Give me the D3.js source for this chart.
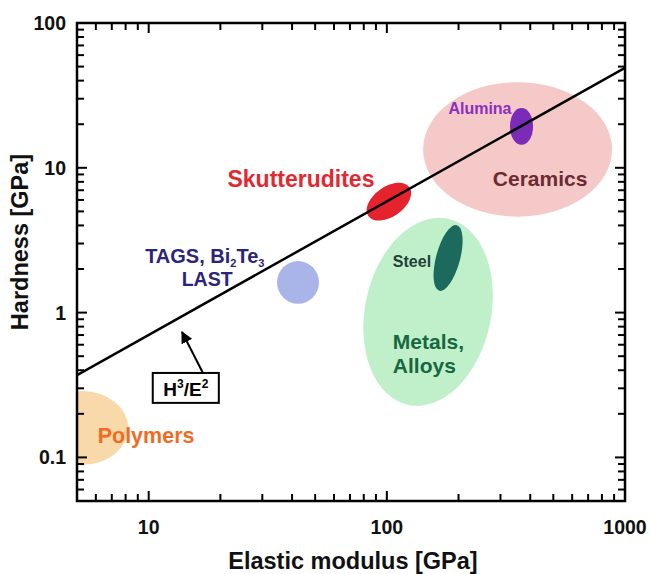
<!DOCTYPE html>
<html>
<head>
<meta charset="utf-8">
<script src="https://cdn.jsdelivr.net/npm/d3@7"></script>
<style>
  body { margin: 0; background: #fff; }
  text { font-family: "Liberation Sans", Arial, sans-serif; font-weight: bold; }
</style>
</head>
<body>
<div id="chart"></div>
<script>
// axis ranges and tick labels
var xDomain = [5, 1000];
var yDomain = [0.05, 100];
var xTickLabels = [10, 100, 1000];
var yTickLabels = [0.1, 1, 10, 100];

// material regions: extent in E (GPa) and H (GPa) before tilt
var regionNames = ["Ceramics", "Metals", "Polymers", "Alumina", "Steel", "TAGS", "Skutterudites"];
var regionE = [[142, 882], [81, 274], [3.4, 8.2], [329, 411], [161, 203], [34.6, 51.9], [80, 130]];
var regionH = [[4.6, 39], [0.223, 4.6], [0.089, 0.287], [14.4, 25.9], [1.39, 4.09], [1.15, 2.27], [4.6, 7.4]];
var regionTilt = [0, 12, 0, 0, 15, 0, -35];
var regionFill = ["#f5c9c7", "#bff0ca", "#f9d9a9", "#7a2cb8", "#1c6a5d", "#a9b5e8", "#e4232c"];

// H^3/E^2 guide line end points
var lineE = [5, 1000];
var lineH = [0.37, 49];

// label anchors (E, H)
var labels = [
  {text: "Skutterudites", e: 43.6, h: 7.4, size: 23, color: "#e2292f", anchor: "middle"},
  {text: "Ceramics", e: 440, h: 7.5, size: 21, color: "#6c2a31", anchor: "middle"},
  {text: "Alumina", e: 246, h: 23.5, size: 16, color: "#8b2fc2", anchor: "middle"},
  {text: "Steel", e: 106, h: 2.07, size: 16, color: "#1f4039", anchor: "start"},
  {text: "Metals,", e: 106, h: 0.561, size: 21, color: "#15683f", anchor: "start"},
  {text: "Alloys", e: 106, h: 0.383, size: 21, color: "#15683f", anchor: "start"},
  {text: "Polymers", e: 9.75, h: 0.126, size: 21.5, color: "#f26b22", anchor: "middle"},
  {text: "LAST", e: 17.6, h: 1.53, size: 19.5, color: "#2c2478", anchor: "middle"}
];

var width = 650, height = 574;
var pLeft = 77, pRight = 625, pTop = 23, pBottom = 501;

var svg = d3.select("#chart").append("svg")
  .attr("width", width)
  .attr("height", height);

var x = d3.scaleLog().domain(xDomain).range([pLeft, pRight]);
var y = d3.scaleLog().domain(yDomain).range([pBottom, pTop]);

svg.append("clipPath").attr("id", "plotclip")
  .append("rect")
  .attr("x", pLeft).attr("y", pTop)
  .attr("width", pRight - pLeft).attr("height", pBottom - pTop);

var plot = svg.append("g").attr("clip-path", "url(#plotclip)");

// regions
regionNames.forEach(function(name, i) {
  var x0 = x(regionE[i][0]), x1 = x(regionE[i][1]);
  var y0 = y(regionH[i][0]), y1 = y(regionH[i][1]);
  var cx = (x0 + x1) / 2, cy = (y0 + y1) / 2;
  plot.append("ellipse")
    .attr("class", "region " + name)
    .attr("cx", 0).attr("cy", 0)
    .attr("rx", Math.abs(x1 - x0) / 2)
    .attr("ry", Math.abs(y1 - y0) / 2)
    .attr("transform", "translate(" + cx + "," + cy + ") rotate(" + regionTilt[i] + ")")
    .attr("fill", regionFill[i]);
});

// guide line
plot.append("line")
  .attr("x1", x(lineE[0])).attr("y1", y(lineH[0]))
  .attr("x2", x(lineE[1])).attr("y2", y(lineH[1]))
  .attr("stroke", "#000")
  .attr("stroke-width", 2.5);

// labels
labels.forEach(function(d) {
  svg.append("text")
    .attr("x", x(d.e)).attr("y", y(d.h))
    .attr("text-anchor", d.anchor)
    .attr("font-size", d.size)
    .attr("fill", d.color)
    .text(d.text);
});

// TAGS, Bi2Te3 with subscripts
var tags = svg.append("text")
  .attr("x", x(17.2)).attr("y", y(2.2))
  .attr("text-anchor", "middle")
  .attr("font-size", 20)
  .attr("fill", "#2c2478");
tags.append("tspan").text("TAGS, Bi");
tags.append("tspan").attr("font-size", 11).attr("dy", 4).text("2");
tags.append("tspan").attr("dy", -4).text("Te");
tags.append("tspan").attr("font-size", 11).attr("dy", 4).text("3");

// H3/E2 callout
var boxE = [10.4, 19.7], boxH = [0.238, 0.383];
svg.append("rect")
  .attr("x", x(boxE[0])).attr("y", y(boxH[1]))
  .attr("width", x(boxE[1]) - x(boxE[0]))
  .attr("height", y(boxH[0]) - y(boxH[1]))
  .attr("fill", "#fff")
  .attr("stroke", "#000")
  .attr("stroke-width", 2);

var ht = svg.append("text")
  .attr("x", (x(boxE[0]) + x(boxE[1])) / 2)
  .attr("y", y(boxH[0]) - 7)
  .attr("text-anchor", "middle")
  .attr("font-size", 19)
  .attr("fill", "#000");
ht.append("tspan").text("H");
ht.append("tspan").attr("font-size", 12).attr("dy", -8).text("3");
ht.append("tspan").attr("dy", 8).text("/E");
ht.append("tspan").attr("font-size", 12).attr("dy", -8).text("2");

svg.append("defs").append("marker")
  .attr("id", "arrow")
  .attr("viewBox", "0 0 10 10")
  .attr("refX", 9).attr("refY", 5)
  .attr("markerWidth", 6).attr("markerHeight", 6)
  .attr("orient", "auto")
  .append("path")
  .attr("d", "M0,0 L10,5 L0,10 Z")
  .attr("fill", "#000");

var arrowE = [16.9, 13.8], arrowH = [0.383, 0.734];
svg.append("line")
  .attr("x1", x(arrowE[0])).attr("y1", y(arrowH[0]))
  .attr("x2", x(arrowE[1])).attr("y2", y(arrowH[1]))
  .attr("stroke", "#000")
  .attr("stroke-width", 2)
  .attr("marker-end", "url(#arrow)");

// frame and ticks
var isMajor = function(v) { return Math.abs(Math.log10(v) - Math.round(Math.log10(v))) < 1e-9; };
var xt = x.ticks().filter(function(v) { return v > xDomain[0] && v < xDomain[1]; });
var yt = y.ticks().filter(function(v) { return v > yDomain[0] && v < yDomain[1]; });
var ticks = svg.append("g").attr("stroke", "#000").attr("stroke-width", 2);

xt.forEach(function(v) {
  var len = isMajor(v) ? 10 : 7;
  ticks.append("line").attr("x1", x(v)).attr("x2", x(v)).attr("y1", pBottom).attr("y2", pBottom - len);
  ticks.append("line").attr("x1", x(v)).attr("x2", x(v)).attr("y1", pTop).attr("y2", pTop + len);
});
yt.forEach(function(v) {
  var len = isMajor(v) ? 10 : 7;
  ticks.append("line").attr("y1", y(v)).attr("y2", y(v)).attr("x1", pLeft).attr("x2", pLeft + len);
  ticks.append("line").attr("y1", y(v)).attr("y2", y(v)).attr("x1", pRight).attr("x2", pRight - len);
});

svg.append("rect")
  .attr("x", pLeft).attr("y", pTop)
  .attr("width", pRight - pLeft).attr("height", pBottom - pTop)
  .attr("fill", "none")
  .attr("stroke", "#000")
  .attr("stroke-width", 2.5);

// tick labels
svg.selectAll(".xlab").data(xTickLabels).enter().append("text")
  .attr("class", "xlab")
  .attr("x", function(d) { return x(d); })
  .attr("y", 534)
  .attr("text-anchor", "middle")
  .attr("font-size", 19.5)
  .attr("fill", "#111")
  .text(function(d) { return d; });

svg.selectAll(".ylab").data(yTickLabels).enter().append("text")
  .attr("class", "ylab")
  .attr("x", 66)
  .attr("y", function(d) { return y(d) + 7; })
  .attr("text-anchor", "end")
  .attr("font-size", 19.5)
  .attr("fill", "#111")
  .text(function(d) { return d; });

// axis titles
svg.append("text")
  .attr("x", (pLeft + pRight) / 2 + 2)
  .attr("y", 569)
  .attr("text-anchor", "middle")
  .attr("font-size", 23.5)
  .attr("fill", "#111")
  .text("Elastic modulus [GPa]");

svg.append("text")
  .attr("transform", "translate(28,242) rotate(-90)")
  .attr("text-anchor", "middle")
  .attr("font-size", 23.5)
  .attr("fill", "#111")
  .text("Hardness [GPa]");
</script>
</body>
</html>
